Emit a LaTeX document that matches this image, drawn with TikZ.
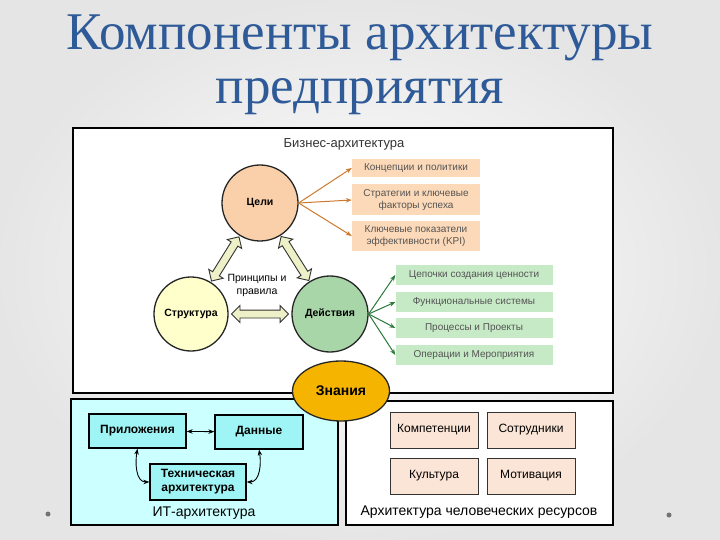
\documentclass[tikz,border=0pt]{standalone}
\usepackage{fontspec}
\setmainfont{Liberation Sans}
\newfontfamily\titlefont{Liberation Serif}
\usetikzlibrary{shapes.geometric,shapes.arrows,arrows.meta}
\definecolor{titleblue}{HTML}{2E5A98}
\definecolor{peach}{HTML}{F9D0AA}
\definecolor{peachbox}{HTML}{FCD9B8}
\definecolor{lightyel}{HTML}{FFFFCC}
\definecolor{midgreen}{HTML}{A9D6A9}
\definecolor{greenbox}{HTML}{C6E9C6}
\definecolor{arrowfill}{HTML}{EEF0C8}
\definecolor{gold}{HTML}{F5B400}
\definecolor{itback}{HTML}{CCFFFF}
\definecolor{itbox}{HTML}{9FF5F5}
\definecolor{hrbox}{HTML}{FBE5D6}
\definecolor{orangearr}{HTML}{CC7A2E}
\definecolor{greenarr}{HTML}{2A7A3A}
\definecolor{boxtext}{HTML}{555555}

\begin{document}
\begin{tikzpicture}[x=1pt,y=-1pt,>={Stealth[length=6pt,width=4.5pt]},
		circ/.style={circle,draw=black!85,line width=1.3pt,minimum size=76pt,inner sep=0pt,font=\fontsize{10.5}{12}\selectfont\bfseries},
		obox/.style={rectangle,fill=peachbox,minimum width=128pt,inner sep=1pt,text=boxtext,align=center,font=\fontsize{10}{11.5}\selectfont},
		gbox/.style={rectangle,fill=greenbox,minimum width=157pt,minimum height=20pt,inner sep=1pt,text=boxtext,font=\fontsize{10}{11.5}\selectfont},
		fatarr/.style={double arrow,draw=black!80,fill=arrowfill,line width=0.9pt,double arrow head extend=4.5pt,inner xsep=0pt,inner ysep=3.5pt,sloped},
		itb/.style={rectangle,draw=black,line width=1.3pt,fill=itbox,inner sep=0pt,align=center,font=\fontsize{12}{14}\selectfont\bfseries},
		hrb/.style={rectangle,draw=black!80,line width=1pt,fill=hrbox,minimum width=88pt,minimum height=36pt,font=\fontsize{12}{14}\selectfont}]
		
		\useasboundingbox (0,0) rectangle (720,540);
		\shade[inner color=white,outer color=black!10] (0,0) rectangle (720,540);
		\fill[black!55] (48,514) circle (2.5);
		\fill[black!55] (669,515) circle (2.5);
		
		\node(t1) at (360,38)[text=titleblue,font=\titlefont\fontsize{53}{60}\selectfont]{Компоненты архитектуры};
		\node(t2) at (360,97)[text=titleblue,font=\titlefont\fontsize{53}{60}\selectfont]{предприятия};
		
		\draw[line width=1.3pt,fill=white] (73,128) rectangle (613,393);
		\draw[line width=2pt,fill=itback] (71,399) rectangle (338,525);
		\draw[line width=1.3pt,fill=white] (346,401) rectangle (613,525);
		
		\node(b) at (344,144)[font=\fontsize{13}{15}\selectfont,text=black!80]{Бизнес-архитектура};
		\node(1) at (260,203)[circ,fill=peach]{Цели};
		\node(2) at (191,314)[circ,fill=lightyel,minimum size=74pt]{Структура};
		\node(3) at (330,314)[circ,fill=midgreen]{Действия};
		\node(p) at (257,285)[align=center,font=\fontsize{10.5}{13}\selectfont]{Принципы и\\правила};
			\path (1) -- node[fatarr,minimum height=52pt]{} (2);
			\path (1) -- node[fatarr,minimum height=52pt]{} (3);
			\path (2) -- node[fatarr,minimum height=57pt]{} (3);
		
		\node(4) at (416,168)[obox,minimum height=18pt]{Концепции и политики};
		\node(5) at (416,200)[obox,minimum height=31pt]{Стратегии и ключевые\\факторы успеха};
		\node(6) at (416,236)[obox,minimum height=29pt]{Ключевые показатели\\эффективности (KPI)};
			\draw[->,orangearr,line width=1pt] (1.east) -- (4.west);
			\draw[->,orangearr,line width=1pt] (1.east) -- (5.west);
			\draw[->,orangearr,line width=1pt] (1.east) -- (6.west);
		
		\node(7) at (474,275)[gbox]{Цепочки создания ценности};
		\node(8) at (474,302)[gbox]{Функциональные системы};
		\node(9) at (474,328)[gbox]{Процессы и Проекты};
		\node(10) at (474,355)[gbox]{Операции и Мероприятия};
			\draw[->,greenarr,line width=1pt] (3.east) -- (7.west);
			\draw[->,greenarr,line width=1pt] (3.east) -- (8.west);
			\draw[->,greenarr,line width=1pt] (3.east) -- (9.west);
			\draw[->,greenarr,line width=1pt] (3.east) -- (10.west);
		
		\node(11) at (341,391)[ellipse,draw=black!85,line width=1.3pt,fill=gold,minimum width=97pt,minimum height=60pt,font=\fontsize{14}{16}\selectfont\bfseries]{Знания};
		
		\node(12) at (137.5,431)[itb,minimum width=97pt,minimum height=34pt]{Приложения};
		\node(13) at (259,432)[itb,minimum width=88pt,minimum height=34pt]{Данные};
		\node(14) at (198,482)[itb,minimum width=96pt,minimum height=36pt]{Техническая\\архитектура};
			\draw[<->,line width=0.9pt] (12) -- (13);
			\draw[<->,line width=0.9pt] (12.south) to[out=-100,in=180] (14.west);
			\draw[<->,line width=0.9pt] (13.south) to[out=-80,in=0] (14.east);
		\node(it) at (204,513)[font=\fontsize{14}{16}\selectfont]{ИТ-архитектура};
		
		\node(15) at (434,430)[hrb]{Компетенции};
		\node(16) at (531,430)[hrb]{Сотрудники};
		\node(17) at (434,476)[hrb]{Культура};
		\node(18) at (531,476)[hrb]{Мотивация};
		\node(hr) at (479,512)[font=\fontsize{14}{16}\selectfont]{Архитектура человеческих ресурсов};
		
	\end{tikzpicture}
\end{document}
